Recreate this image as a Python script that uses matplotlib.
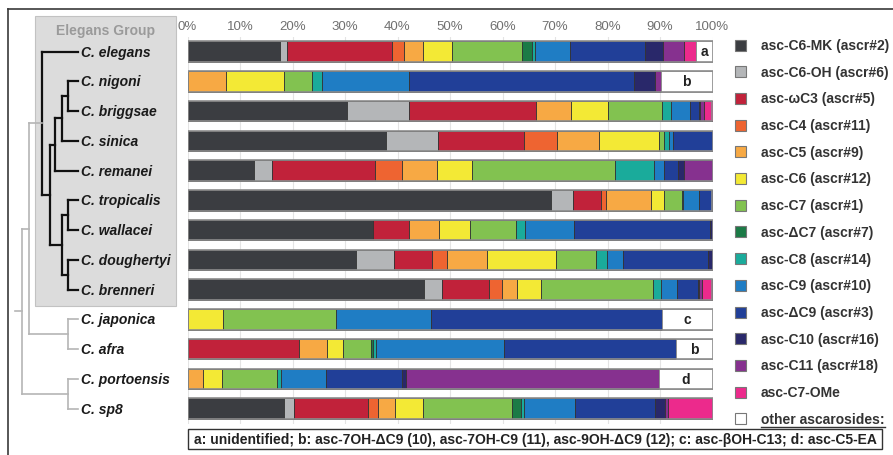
import matplotlib
matplotlib.use("Agg")
import matplotlib.pyplot as plt
from matplotlib.patches import Rectangle
import numpy as np

plt.rcParams["font.family"] = ["Liberation Sans", "DejaVu Sans"]

"""Species, top to bottom"""
species = ["C. elegans", "C. nigoni", "C. briggsae", "C. sinica", "C. remanei",
           "C. tropicalis", "C. wallacei", "C. doughertyi", "C. brenneri",
           "C. japonica", "C. afra", "C. portoensis", "C. sp8"]

"""Ascaroside share (%) for each species, same order as above"""
c6_mk = [17.6, 0, 30.4, 37.8, 12.7, 69.2, 35.3, 32.1, 45.0, 0, 0, 0, 18.4]
c6_oh = [1.4, 0, 11.8, 10.0, 3.3, 4.2, 0, 7.3, 3.4, 0, 0, 0, 1.9]
omega_c3 = [19.9, 0, 24.2, 16.3, 19.7, 5.3, 6.8, 7.1, 9.0, 0, 21.2, 0, 14.1]
c4 = [2.3, 0, 0, 6.2, 5.1, 1.1, 0, 2.9, 2.5, 0, 0, 0, 1.8]
c5 = [3.7, 7.3, 6.6, 8.0, 6.8, 8.4, 5.8, 7.6, 2.9, 0, 5.4, 3.0, 3.3]
c6 = [5.5, 11.1, 7.1, 11.6, 6.5, 2.6, 6.0, 13.1, 4.5, 6.8, 3.1, 3.5, 5.3]
c7 = [13.3, 5.4, 10.2, 0.9, 27.3, 3.3, 8.7, 7.8, 21.4, 21.4, 5.3, 10.5, 17.1]
delta_c7 = [2.0, 0, 0, 0, 0, 0, 0, 0, 0, 0, 0.3, 0, 1.7]
c8 = [0.4, 1.9, 1.7, 1.0, 7.5, 0.3, 1.7, 2.0, 1.4, 0, 0.6, 0.9, 0.5]
c9 = [6.8, 16.4, 3.8, 0.7, 1.9, 3.0, 9.3, 3.1, 3.1, 18.2, 24.3, 8.4, 9.7]
delta_c9 = [14.3, 42.9, 1.6, 7.5, 2.6, 2.6, 26.0, 16.1, 4.0, 43.9, 32.8, 14.5, 15.3]
c10 = [3.4, 4.1, 0.3, 0, 1.2, 0, 0.4, 0.9, 0.3, 0, 0, 0.8, 1.9]
c11 = [3.9, 1.0, 0.6, 0, 5.4, 0, 0, 0, 0.5, 0, 0, 48.2, 0.6]
c7_ome = [2.3, 0, 1.7, 0, 0, 0, 0, 0, 2.0, 0, 0, 0, 8.4]
other = [3.2, 9.9, 0, 0, 0, 0, 0, 0, 0, 9.7, 7.0, 10.2, 0]
other_tags = ["a", "b", "", "", "", "", "", "", "", "c", "b", "d", ""]

compounds = ["asc-C6-MK (ascr#2)", "asc-C6-OH (ascr#6)", "asc-\u03c9C3 (ascr#5)",
             "asc-C4 (ascr#11)", "asc-C5 (ascr#9)", "asc-C6 (ascr#12)",
             "asc-C7 (ascr#1)", "asc-\u0394C7 (ascr#7)", "asc-C8 (ascr#14)",
             "asc-C9 (ascr#10)", "asc-\u0394C9 (ascr#3)", "asc-C10 (ascr#16)",
             "asc-C11 (ascr#18)", "asc-C7-OMe", "other ascarosides:"]
shares = [c6_mk, c6_oh, omega_c3, c4, c5, c6, c7, delta_c7, c8, c9,
          delta_c9, c10, c11, c7_ome, other]
colors = ["#3b3d41", "#b4b6b8", "#c1223a", "#ee6431", "#f7a944", "#f3e935",
          "#82c250", "#1b7a46", "#1aab9b", "#1f7dc4", "#213f98", "#29286a",
          "#86318f", "#ec2a8c", "#ffffff"]

note = ("a: unidentified; b: asc-7OH-\u0394C9 (10), asc-7OH-C9 (11), "
        "asc-9OH-\u0394C9 (12); c: asc-\u03b2OH-C13; d: asc-C5-EA")

"""Phylogeny (cladogram) of the species"""
elegans_group = ("C. elegans",
                 ((((("C. nigoni", "C. briggsae"), "C. sinica"), "C. remanei")),
                  (("C. tropicalis", "C. wallacei"), ("C. doughertyi", "C. brenneri"))))
tree = ((elegans_group, ("C. japonica", "C. afra")), ("C. portoensis", "C. sp8"))
group_members = set(species[:9])

"""Layout in pixels"""
W, H = 893, 456
X0, X1 = 187.5, 712.5
ROW0, PITCH = 52.5, 29.77
TIP = 78
NODE_X = {1: 68, 2: 61.7, 3: 55, 4: 50, 5: 42, 6: 29.3, 7: 21.7}

fig = plt.figure(figsize=(W / 100, H / 100), dpi=100)
top_px = ROW0 - 0.5 * PITCH
bot_px = ROW0 + (len(species) - 0.5) * PITCH
ax = fig.add_axes([X0 / W, 1 - bot_px / H, (X1 - X0) / W, (bot_px - top_px) / H])
ov = fig.add_axes([0, 0, 1, 1], zorder=-1)
ov.set_xlim(0, W)
ov.set_ylim(H, 0)
ov.axis("off")

"""Stacked bars"""
y = np.arange(len(species))
left = np.zeros(len(species))
for vals, color in zip(shares, colors):
    vals = np.array(vals, dtype=float)
    m = vals > 0
    ec = "#8c8c8c" if color == "#ffffff" else "#333333"
    ax.barh(y[m], vals[m], left=left[m], height=0.69, color=color,
            edgecolor=ec, linewidth=0.6, zorder=2)
    left += vals
ax.barh(y, left, height=0.69, fill=False, edgecolor="#8c8c8c", linewidth=1.2, zorder=3)

other_left = left - np.array(other)
for i, tag in enumerate(other_tags):
    if tag:
        ax.text(other_left[i] + other[i] / 2, i, tag, ha="center", va="center",
                fontsize=10, fontweight="bold", color="#222222", zorder=4)

ax.set_xlim(0, 100)
ax.set_ylim(len(species) - 0.5, -0.5)
ax.xaxis.tick_top()
ax.set_xticks(np.arange(0, 101, 10))
ax.set_xticklabels([f"{v}%" for v in range(0, 101, 10)], fontsize=9.5, color="#707070")
ax.tick_params(axis="x", length=0, pad=3.5)
ax.set_yticks([])
ax.grid(axis="x", color="#e4e4e4", linewidth=0.8, zorder=0)
ax.set_axisbelow(True)
for s in ax.spines.values():
    s.set_visible(False)
ax.patch.set_visible(False)

"""Elegans group box and species names"""
ov.add_patch(Rectangle((35, 17), 141, 290, facecolor="#dcdcdc", edgecolor="#c2c2c2", lw=0.8))
ov.text(106, 31, "Elegans Group", ha="center", va="center", fontsize=10,
        fontweight="bold", color="#9a9a9a")
for i, name in enumerate(species):
    ov.text(81, ROW0 + i * PITCH, name, ha="left", va="center", fontsize=10,
            fontweight="bold", style="italic", color="#1a1a1a")


def leaves(node):
    if isinstance(node, str):
        return [node]
    return [l for c in node for l in leaves(c)]


def draw(node):
    """Draw a clade, return (y of its stem, height)"""
    if isinstance(node, str):
        return ROW0 + species.index(node) * PITCH, 0
    kids = [draw(c) for c in node]
    h = 1 + max(k[1] for k in kids)
    x = NODE_X[h]
    black = set(leaves(node)) <= group_members
    col, lw = ("#111111", 1.6) if black else ("#b5b5b5", 1.2)
    ys = [k[0] for k in kids]
    ov.plot([x, x], [min(ys), max(ys)], color=col, lw=lw, solid_capstyle="projecting")
    for c, (cy, ch) in zip(node, kids):
        cx = TIP if isinstance(c, str) else NODE_X[ch]
        ov.plot([x, cx], [cy, cy], color=col, lw=lw, solid_capstyle="projecting")
    return (min(ys) + max(ys)) / 2, h


root_y, _ = draw(tree)
ov.plot([15, NODE_X[7]], [root_y, root_y], color="#b5b5b5", lw=1.2)

"""Legend"""
for i, (name, color) in enumerate(zip(compounds, colors)):
    ly = 46 + 26.7 * i
    ov.add_patch(Rectangle((735, ly - 5.5), 11, 11, facecolor=color,
                           edgecolor="#777777", lw=0.8))
    t = ov.text(761, ly, name, ha="left", va="center", fontsize=10,
                fontweight="bold", color="#333333")
fig.canvas.draw()
bb = t.get_window_extent(fig.canvas.get_renderer())
ov.plot([bb.x0, bb.x1], [H - bb.y0 + 1, H - bb.y0 + 1], color="#333333", lw=1.0)

"""Footnote box"""
ov.add_patch(Rectangle((188, 430), 694, 20, facecolor="white", edgecolor="#333333", lw=1.0))
ov.text(194, 440.5, note, ha="left", va="center", fontsize=10, fontweight="bold",
        color="#222222")

"""Frame"""
ov.plot([8, 8], [H, 10], color="#3a3a3a", lw=1.2)
ov.plot([8, W], [10, 10], color="#3a3a3a", lw=1.2)

fig.savefig("out.png", dpi=100)
